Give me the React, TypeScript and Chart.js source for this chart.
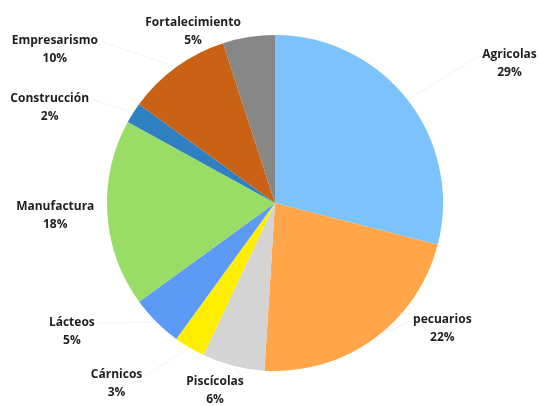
import React, { useEffect, useRef } from "react";
import { Chart, registerables } from "chart.js";

Chart.register(...registerables);

const categories = [
  "Agricolas",
  "pecuarios",
  "Piscícolas",
  "Cárnicos",
  "Lácteos",
  "Manufactura",
  "Construcción",
  "Empresarismo",
  "Fortalecimiento",
];
const values = [29, 22, 6, 3, 5, 18, 2, 10, 5];
const colors = [
  "#7cc3fd",
  "#ffa64a",
  "#d4d4d4",
  "#ffee00",
  "#5b9bf5",
  "#99dd66",
  "#2f80c0",
  "#c96214",
  "#878787",
];

// label placement: angle (deg, clockwise from top) and distance as fraction of radius
const labelAngles = [59.2, 126.8, 197.8, 221.3, 237.8, 266.9, 293.1, 305, 334.5];
const labelDists = [1.625, 1.244, 1.167, 1.429, 1.429, 1.31, 1.458, 1.6, 1.133];

const labelPlugin = {
  id: "outLabels",
  afterDatasetsDraw(chart: any) {
    const ctx = chart.ctx;
    const meta = chart.getDatasetMeta(0);
    const total = values.reduce((a, b) => a + b, 0);
    ctx.save();
    meta.data.forEach((arc: any, i: number) => {
      const { x, y, outerRadius, startAngle, endAngle } = arc.getProps(
        ["x", "y", "outerRadius", "startAngle", "endAngle"],
        true
      );
      const a = ((labelAngles[i] - 90) * Math.PI) / 180;
      const lx = x + Math.cos(a) * outerRadius * labelDists[i];
      const ly = y + Math.sin(a) * outerRadius * labelDists[i] + 0.5;
      const mid = (startAngle + endAngle) / 2;
      const px = x + Math.cos(mid) * outerRadius;
      const py = y + Math.sin(mid) * outerRadius;
      ctx.font = "bold 12px 'Open Sans', sans-serif";
      const w = ctx.measureText(categories[i]).width;
      // leader line
      const sx = px < lx ? lx - w / 2 - 3 : lx + w / 2 + 3;
      const sy = ly - 8;
      if (Math.hypot(px - sx, py - sy) > 15) {
        ctx.strokeStyle = "rgba(225,225,225,0.4)";
        ctx.lineWidth = 1;
        ctx.beginPath();
        ctx.moveTo(sx, sy);
        ctx.lineTo(px, py);
        ctx.stroke();
      }
      ctx.fillStyle = "#1e1e1e";
      ctx.textAlign = "center";
      ctx.textBaseline = "middle";
      ctx.fillText(categories[i], lx, ly - 9);
      const pct = Math.round((values[i] / total) * 100) + "%";
      ctx.fillText(pct, lx, ly + 9);
    });
    ctx.restore();
  },
};

export default function App() {
  const ref = useRef<HTMLCanvasElement | null>(null);
  useEffect(() => {
    document.body.style.margin = "0";
    const chart = new Chart(ref.current as HTMLCanvasElement, {
      type: "pie",
      data: {
        labels: categories,
        datasets: [
          {
            data: values,
            backgroundColor: colors,
            borderWidth: 0,
          },
        ],
      },
      options: {
        animation: false,
        responsive: false,
        maintainAspectRatio: false,
        layout: { padding: { left: 107, right: 95, top: 35, bottom: 35 } },
        plugins: {
          legend: { display: false },
          tooltip: { enabled: false },
        },
      },
      plugins: [labelPlugin],
    });
    return () => chart.destroy();
  }, []);
  return (
    <div style={{ width: 538, height: 406, background: "#fff" }}>
      <canvas ref={ref} width={538} height={406} />
    </div>
  );
}
